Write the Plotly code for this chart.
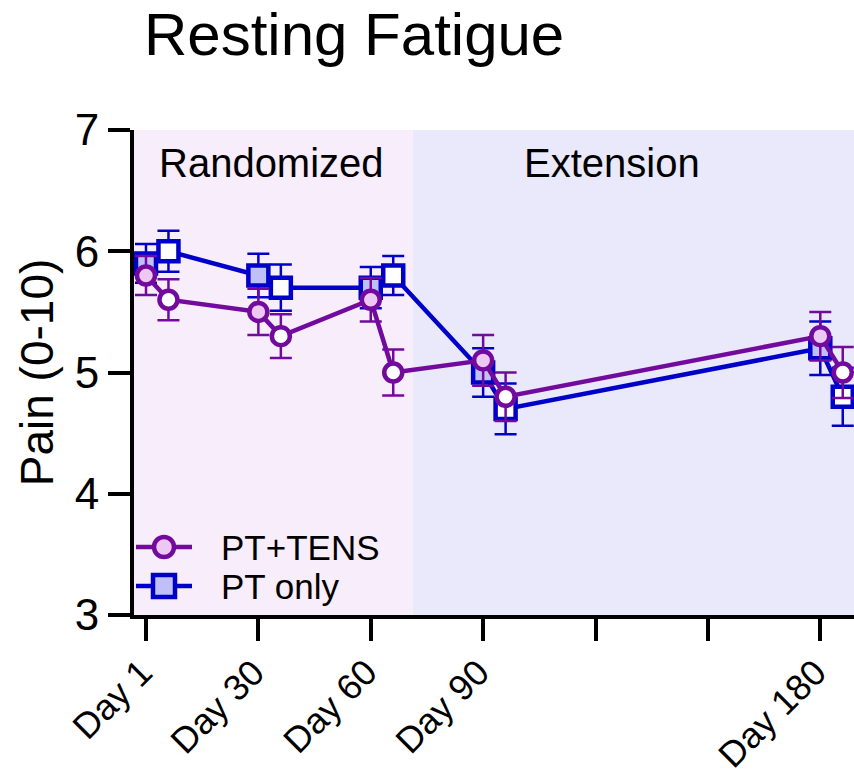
import plotly.graph_objects as go

# ---- data ----
days = [0, 6, 30, 36, 60, 66, 90, 96, 180, 186]
tens_mean = [5.8, 5.6, 5.5, 5.3, 5.6, 5.0, 5.1, 4.8, 5.3, 5.0]
tens_err = [0.16, 0.17, 0.19, 0.18, 0.18, 0.19, 0.21, 0.20, 0.20, 0.21]
pt_mean = [5.9, 6.0, 5.8, 5.7, 5.7, 5.8, 5.0, 4.7, 5.2, 4.8]
pt_err = [0.16, 0.17, 0.18, 0.19, 0.17, 0.16, 0.20, 0.21, 0.22, 0.24]
tick_vals = [0, 30, 60, 90, 120, 150, 180]
tick_text = ["Day 1", "Day 30", "Day 60", "Day 90", "", "", "Day 180"]
phase_names = ["Randomized", "Extension"]
phase_bounds = [-3.5, 71.3, 200]
series_names = ["PT+TENS", "PT only"]

PURPLE = "#730A9E"
PURPLE_LIGHT = "#EDC8F2"
BLUE = "#0000C8"
BLUE_LIGHT = "#C0C0F8"
FONT = "Liberation Sans, Arial, sans-serif"

W, H = 854, 775
ML, MR, MT, MB = 134, 0, 130, 160
PW, PH = W - ML - MR, H - MT - MB

tens_fill = [PURPLE_LIGHT if i % 2 == 0 else "white" for i in range(len(days))]
pt_fill = [BLUE_LIGHT if i % 2 == 0 else "white" for i in range(len(days))]

fig = go.Figure()

fig.add_trace(go.Scatter(
    x=days, y=pt_mean, name=series_names[1], mode="lines+markers",
    line=dict(color=BLUE, width=4.5),
    marker=dict(symbol="square", size=20, color=pt_fill, line=dict(color=BLUE, width=4.5)),
    error_y=dict(type="data", array=pt_err, color=BLUE, thickness=2.5, width=11),
    showlegend=False,
))
fig.add_trace(go.Scatter(
    x=days, y=tens_mean, name=series_names[0], mode="lines+markers",
    line=dict(color=PURPLE, width=4.5),
    marker=dict(symbol="circle", size=18, color=tens_fill, line=dict(color=PURPLE, width=4.5)),
    error_y=dict(type="data", array=tens_err, color=PURPLE, thickness=2.5, width=11),
    showlegend=False,
))

# background phase shading
shade_colors = ["#F8EDFA", "#E9E9FB"]
for i in range(2):
    fig.add_shape(type="rect", xref="x", yref="y",
                  x0=phase_bounds[i], x1=phase_bounds[i + 1], y0=3, y1=7,
                  fillcolor=shade_colors[i], line=dict(width=0), layer="below")

fig.add_annotation(x=33.5, y=6.73, xref="x", yref="y", text=phase_names[0],
                   showarrow=False, font=dict(size=40, color="black", family=FONT))
fig.add_annotation(x=124.4, y=6.73, xref="x", yref="y", text=phase_names[1],
                   showarrow=False, font=dict(size=40, color="black", family=FONT))

# custom legend (pixel positions converted to paper coords)
def px(xp):
    return (xp - ML) / PW

def py(yp):
    return (MT + PH - yp) / PH

legend_rows = [(547, PURPLE, PURPLE_LIGHT, "circle", 20),
               (586, BLUE, BLUE_LIGHT, "rect", 22)]
for (yy, col, fill, shp, sz), name in zip(legend_rows, series_names):
    fig.add_shape(type="line", xref="paper", yref="paper",
                  x0=px(136), x1=px(192), y0=py(yy), y1=py(yy),
                  line=dict(color=col, width=4.5), layer="above")
    fig.add_shape(type=shp, xref="paper", yref="paper",
                  xsizemode="pixel", ysizemode="pixel",
                  xanchor=px(164), yanchor=py(yy),
                  x0=-sz / 2, x1=sz / 2, y0=-sz / 2, y1=sz / 2,
                  fillcolor=fill, line=dict(color=col, width=4.5), layer="above")
    fig.add_annotation(x=px(219), y=py(yy), xref="paper", yref="paper",
                       xanchor="left", yanchor="middle", text=name, showarrow=False,
                       font=dict(size=35, color="black", family=FONT))

# rotated x tick labels (placed at the axis tick values)
for tv, tt in zip(tick_vals, tick_text):
    if tt:
        fig.add_annotation(x=tv, y=py(650), xref="x", yref="paper",
                           xanchor="right", yanchor="top", textangle=-45,
                           xshift=15, text=tt, showarrow=False, borderpad=0,
                           font=dict(size=36, color="black", family=FONT))

fig.update_layout(
    width=W, height=H,
    margin=dict(l=ML, r=MR, t=MT, b=MB, autoexpand=False),
    paper_bgcolor="white", plot_bgcolor="white",
    font=dict(family=FONT, color="black"),
    title=dict(text="Resting Fatigue", x=144 / W, xanchor="left",
               y=1 - 34 / H, yanchor="middle", yref="container",
               font=dict(size=60, color="black", family=FONT)),
    showlegend=False,
    xaxis=dict(range=[-3.2, 189], tickvals=tick_vals, showticklabels=False,
               showgrid=False, zeroline=False, automargin=False,
               showline=True, linecolor="black", linewidth=4,
               ticks="outside", ticklen=22, tickwidth=4, tickcolor="black"),
    yaxis=dict(range=[3, 7], tickvals=[3, 4, 5, 6, 7], showgrid=False, zeroline=False,
               automargin=False,
               showline=True, linecolor="black", linewidth=4,
               ticks="outside", ticklen=22, tickwidth=4, tickcolor="black",
               tickfont=dict(size=44, color="black", family=FONT),
               title=dict(text="Pain (0-10)", standoff=8,
                          font=dict(size=46, color="black", family=FONT))),
)

fig.write_html("out.html")
